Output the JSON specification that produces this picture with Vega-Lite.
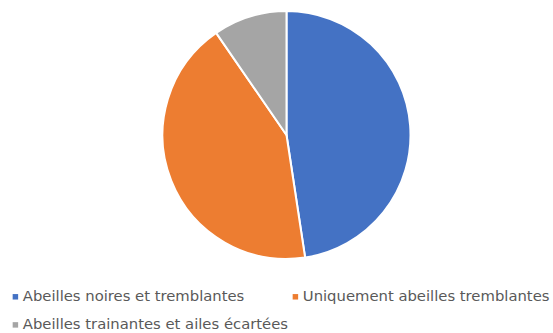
{
  "$schema": "https://vega.github.io/schema/vega-lite/v6.json",
  "width": 533,
  "height": 270,
  "padding": {"left": 8, "top": 0, "right": 0, "bottom": 0},
  "autosize": {"type": "pad"},
  "background": "white",
  "config": {
    "view": {"stroke": null},
    "legend": {
      "title": null,
      "orient": "none",
      "direction": "horizontal",
      "padding": 0,
      "symbolType": "square",
      "symbolSize": 30,
      "symbolStrokeWidth": 0,
      "symbolOffset": 0,
      "labelOffset": 0,
      "labelFont": "DejaVu Sans",
      "labelFontSize": 14.8,
      "labelColor": "#595959",
      "labelLimit": 400,
      "columnPadding": 43
    }
  },
  "data": {
    "values": [
      {"categorie": "Abeilles noires et tremblantes", "part": 47.6},
      {"categorie": "Uniquement abeilles tremblantes", "part": 42.8},
      {"categorie": "Abeilles trainantes et ailes écartées", "part": 9.6}
    ]
  },
  "transform": [
    {"stack": "part", "groupby": [], "sort": [{"field": "part", "order": "descending"}], "as": ["debut", "fin"]}
  ],
  "layer": [
    {
      "transform": [{"filter": "datum.categorie !== 'Abeilles trainantes et ailes écartées'"}],
      "mark": {"type": "arc", "outerRadius": 124, "stroke": "white", "strokeWidth": 2},
      "encoding": {
        "theta": {"field": "debut", "type": "quantitative", "scale": {"domain": [0, 100]}},
        "theta2": {"field": "fin"},
        "color": {
          "field": "categorie",
          "type": "nominal",
          "scale": {
            "domain": ["Abeilles noires et tremblantes", "Uniquement abeilles tremblantes"],
            "range": ["#4472C4", "#ED7D31"]
          },
          "legend": {"legendX": -12, "legendY": 289}
        }
      }
    },
    {
      "transform": [{"filter": "datum.categorie === 'Abeilles trainantes et ailes écartées'"}],
      "mark": {"type": "arc", "outerRadius": 124, "stroke": "white", "strokeWidth": 2},
      "encoding": {
        "theta": {"field": "debut", "type": "quantitative", "scale": {"domain": [0, 100]}},
        "theta2": {"field": "fin"},
        "color": {
          "field": "categorie",
          "type": "nominal",
          "scale": {
            "domain": ["Abeilles trainantes et ailes écartées"],
            "range": ["#A5A5A5"]
          },
          "legend": {"legendX": -12, "legendY": 317.5}
        }
      }
    }
  ],
  "resolve": {"scale": {"color": "independent"}, "legend": {"color": "independent"}}
}
